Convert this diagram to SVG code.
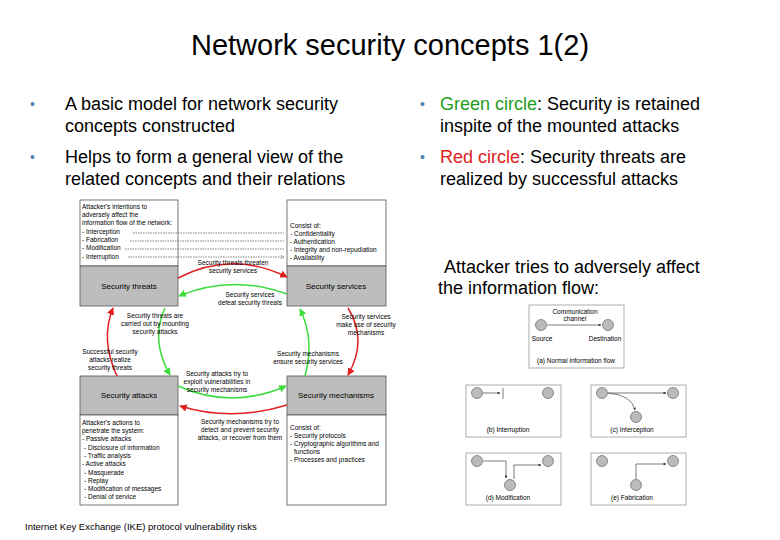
<svg xmlns="http://www.w3.org/2000/svg" width="780" height="540" viewBox="0 0 780 540">
<style>
text{font-family:"Liberation Sans",Arial,sans-serif;fill:#000}
.b{font-size:18px}
.s{font-size:6.5px}
.m{font-size:8px}
.w{fill:#fff;stroke:#555;stroke-width:0.8}
.g{fill:#bdbdbd;stroke:#555;stroke-width:0.8}
.r{fill:none;stroke:#e02020;stroke-width:1.5}
.gr{fill:none;stroke:#3ddc3d;stroke-width:1.5}
.d{fill:none;stroke:#666;stroke-width:0.8;stroke-dasharray:1.5 1}
.c{fill:#bbb;stroke:#666;stroke-width:0.7}
.p{fill:#fff;stroke:#999;stroke-width:0.8}
.l{fill:none;stroke:#444;stroke-width:0.7}
.bu{fill:#4f81bd;font-size:14px}
</style>
<defs>
<marker id="ar" viewBox="0 0 10 10" refX="9" refY="5" markerWidth="5" markerHeight="5" orient="auto"><path d="M0,0L10,5L0,10z" fill="#e02020"/></marker>
<marker id="ag" viewBox="0 0 10 10" refX="9" refY="5" markerWidth="5" markerHeight="5" orient="auto"><path d="M0,0L10,5L0,10z" fill="#3ddc3d"/></marker>
<marker id="ak" viewBox="0 0 10 10" refX="9" refY="5" markerWidth="4" markerHeight="4" orient="auto"><path d="M0,0L10,5L0,10z" fill="#333"/></marker>
<marker id="ao" viewBox="0 0 10 10" refX="9" refY="5" markerWidth="5" markerHeight="5" orient="auto"><path d="M0,0L10,5L0,10" fill="none" stroke="#555"/></marker>
</defs>
<text x="390" y="55" font-size="29" text-anchor="middle">Network security concepts 1(2)</text>
<g id="bullets">
<text class="bu" x="30" y="109">•</text><text class="b" x="65" y="110">A basic model for network security</text>
<text class="b" x="65" y="132">concepts constructed</text>
<text class="bu" x="30" y="162">•</text><text class="b" x="65" y="163">Helps to form a general view of the</text>
<text class="b" x="65" y="185">related concepts and their relations</text>
<text class="bu" x="420" y="109">•</text><text class="b" x="440" y="110"><tspan style="fill:#1e9e1e">Green circle</tspan>: Security is retained</text>
<text class="b" x="440" y="132">inspite of the mounted attacks</text>
<text class="bu" x="420" y="162">•</text><text class="b" x="440" y="163"><tspan style="fill:#e02020">Red circle</tspan>: Security threats are</text>
<text class="b" x="440" y="185">realized by successful attacks</text>
<text class="b" x="444" y="273">Attacker tries to adversely affect</text>
<text class="b" x="438" y="294">the information flow:</text>
</g>
<g id="n-threats">
<rect class="w" x="80" y="200" width="98" height="66"/><rect class="g" x="80" y="266" width="98" height="40"/>
<text class="m" x="129" y="289" text-anchor="middle">Security threats</text>
<text class="s" x="82" y="209">Attacker's intentions to</text>
<text class="s" x="82" y="217">adversely affect the</text>
<text class="s" x="82" y="225">information flow of the network:</text>
<text class="s" x="82" y="234">- Interception</text>
<text class="s" x="82" y="242">- Fabrication</text>
<text class="s" x="82" y="250">- Modification</text>
<text class="s" x="82" y="259">- Interruption</text>
</g>
<g id="n-services">
<rect class="w" x="287" y="200" width="99" height="66"/><rect class="g" x="287" y="266" width="99" height="40"/>
<text class="m" x="336" y="289" text-anchor="middle">Security services</text>
<text class="s" x="290" y="228">Consist of:</text>
<text class="s" x="290" y="236">- Confidentiality</text>
<text class="s" x="290" y="244">- Authentication</text>
<text class="s" x="290" y="252">- Integrity and non-repudiation</text>
<text class="s" x="290" y="260">- Availability</text>
</g>
<g id="n-attacks">
<rect class="g" x="80" y="376" width="98" height="39"/><rect class="w" x="80" y="415" width="98" height="90"/>
<text class="m" x="129" y="398" text-anchor="middle">Security attacks</text>
<text class="s" x="82" y="425">Attacker's actions to</text>
<text class="s" x="82" y="433">penetrate the system:</text>
<text class="s" x="82" y="441">- Passive attacks</text>
<text class="s" x="84" y="450">- Disclosure of information</text>
<text class="s" x="84" y="458">- Traffic analysis</text>
<text class="s" x="82" y="466">- Active attacks</text>
<text class="s" x="84" y="475">- Masquerade</text>
<text class="s" x="84" y="483">- Replay</text>
<text class="s" x="84" y="491">- Modification of messages</text>
<text class="s" x="84" y="499">- Denial of service</text>
</g>
<g id="n-mechanisms">
<rect class="g" x="287" y="376" width="99" height="39"/><rect class="w" x="287" y="415" width="99" height="90"/>
<text class="m" x="336" y="398" text-anchor="middle">Security mechanisms</text>
<text class="s" x="290" y="430">Consist of:</text>
<text class="s" x="290" y="438">- Security protocols</text>
<text class="s" x="290" y="446">- Cryptographic algorithms and</text>
<text class="s" x="294" y="454">functions</text>
<text class="s" x="290" y="462">- Processes and practices</text>
</g>
<g id="connectors">
<path class="d" d="M133,233H284M130,241H284M125,249H284M128,257H284" marker-end="url(#ao)"/>
<path class="r" d="M178,278Q232,250 287,277" marker-end="url(#ar)"/>
<path class="gr" d="M287,294Q232,274 179,296" marker-end="url(#ag)"/>
<path class="r" d="M117,376Q100,340 113,308" marker-end="url(#ar)"/>
<path class="gr" d="M165,308Q150,340 170,375" marker-end="url(#ag)"/>
<path class="gr" d="M178,386Q232,410 286,386" marker-end="url(#ag)"/>
<path class="gr" d="M305,376Q315,340 300,309" marker-end="url(#ag)"/>
<path class="r" d="M348,308Q368,340 348,375" marker-end="url(#ar)"/>
<path class="r" d="M287,405Q232,422 180,406" marker-end="url(#ar)"/>
<g class="s" text-anchor="middle">
<text x="233" y="265">Security threats threaten</text><text x="233" y="273">security services</text>
<text x="250" y="297">Security services</text><text x="250" y="305">defeat security threats</text>
<text x="155" y="318">Security threats are</text><text x="155" y="326">carried out by mounting</text><text x="155" y="334">security attacks</text>
<text x="366" y="319">Security services</text><text x="366" y="327">make use of security</text><text x="366" y="335">mechanisms</text>
<text x="110" y="354">Successful security</text><text x="110" y="362">attacks realize</text><text x="110" y="370">security threats</text>
<text x="308" y="356">Security mechanisms</text><text x="308" y="364">ensure security services</text>
<text x="217" y="376">Security attacks try to</text><text x="217" y="384">exploit vulnerabilities in</text><text x="217" y="392">security mechanisms</text>
<text x="240" y="424">Security mechanisms try to</text><text x="240" y="432">detect and prevent security</text><text x="240" y="440">attacks, or recover from them</text>
</g>
</g>
<g id="flows">
<rect class="p" x="529" y="305" width="95" height="63"/>
<circle class="c" cx="541" cy="325" r="5.5"/><circle class="c" cx="608" cy="325" r="5.5"/>
<path class="l" d="M547,325H601" marker-end="url(#ak)"/>
<g class="s" text-anchor="middle"><text x="575" y="314">Communication</text><text x="575" y="321">channel</text>
<text x="542" y="341">Source</text><text x="605" y="341">Destination</text><text x="576" y="363">(a) Normal information flow</text></g>
<rect class="p" x="466" y="385" width="95" height="52"/>
<circle class="c" cx="477" cy="393" r="5.5"/><circle class="c" cx="548" cy="393" r="5.5"/>
<path class="l" d="M483,393H500" marker-end="url(#ak)"/><path class="l" d="M503,388V399"/>
<text class="s" x="508" y="432" text-anchor="middle">(b) Interruption</text>
<rect class="p" x="591" y="385" width="95" height="52"/>
<circle class="c" cx="602" cy="393" r="5.5"/><circle class="c" cx="673" cy="393" r="5.5"/><circle class="c" cx="636" cy="417" r="5.5"/>
<path class="l" d="M608,393H666" marker-end="url(#ak)"/><path class="l" d="M608,393Q632,395 635,410" marker-end="url(#ak)"/>
<text class="s" x="632" y="432" text-anchor="middle">(c) Interception</text>
<rect class="p" x="466" y="453" width="95" height="52"/>
<circle class="c" cx="477" cy="461" r="5.5"/><circle class="c" cx="548" cy="461" r="5.5"/><circle class="c" cx="510" cy="485" r="5.5"/>
<path class="l" d="M483,461H506V478" marker-end="url(#ak)"/><path class="l" d="M514,479V465H541" marker-end="url(#ak)"/>
<text class="s" x="508" y="500" text-anchor="middle">(d) Modification</text>
<rect class="p" x="591" y="453" width="95" height="52"/>
<circle class="c" cx="602" cy="461" r="5.5"/><circle class="c" cx="673" cy="461" r="5.5"/><circle class="c" cx="636" cy="485" r="5.5"/>
<path class="l" d="M636,479V464H666" marker-end="url(#ak)"/>
<text class="s" x="632" y="500" text-anchor="middle">(e) Fabrication</text>
</g>
<text x="25" y="530" font-size="9.5">Internet Key Exchange (IKE) protocol vulnerability risks</text>
</svg>
